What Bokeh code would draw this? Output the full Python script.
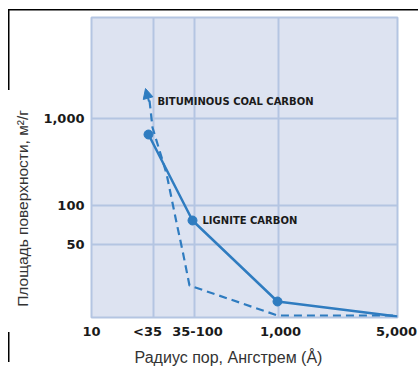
from bokeh.plotting import figure
from bokeh.models import FixedTicker, Label, Arrow, NormalHead, Range1d
from bokeh.embed import file_html
from bokeh.resources import INLINE

# Axis categories (positions along the drawn, non-uniform axis)
x_tick_pos = [0, 62, 103, 187, 306]
x_tick_labels = ["10", "<35", "35-100", "1,000", "5,000"]
y_tick_pos = [73, 112, 199]
y_tick_labels = ["50", "100", "1,000"]

# Series (in the axis units above)
lignite_x = [57, 101, 186, 306]
lignite_y = [183, 97, 16, 1]
bitum_x = [58, 61, 75, 85, 91, 98, 186, 306]
bitum_y = [217, 190, 144, 95, 67, 32, 2, 2]
bitum_arrow_x = [57.5, 54]
bitum_arrow_y = [216, 229]

BLUE = "#2f7cc0"
GRID = "#b4c5e2"

border_css = ("linear-gradient(#000,#000) 8px 9px / 410px 1.5px no-repeat, "
              "linear-gradient(#000,#000) 8px 9px / 1.5px 81px no-repeat, "
              "linear-gradient(#000,#000) 8px 332px / 1.5px 30px no-repeat")

p = figure(width=418, height=369, output_backend="svg", toolbar_location=None,
           x_range=Range1d(0, 306), y_range=Range1d(0, 300),
           min_border_left=91, min_border_right=21, min_border_top=17, min_border_bottom=52,
           styles={"background": border_css})

p.background_fill_color = "#dde3f1"
p.border_fill_color = None
p.outline_line_color = GRID
p.outline_line_width = 2

label_nudge = [0, -6, 3, 2, -1]
label_pos = [t + n for t, n in zip(x_tick_pos, label_nudge)]
p.xaxis.ticker = FixedTicker(ticks=label_pos)
p.xaxis.major_label_overrides = {t: l for t, l in zip(label_pos, x_tick_labels)}
p.yaxis.ticker = FixedTicker(ticks=y_tick_pos)
p.yaxis.major_label_overrides = {t: l for t, l in zip(y_tick_pos, y_tick_labels)}
for ax in (p.xaxis[0], p.yaxis[0]):
    ax.axis_line_color = None
    ax.major_tick_line_color = None
    ax.minor_tick_line_color = None
    ax.major_tick_out = 0
    ax.major_tick_in = 0
    ax.minor_tick_out = 0
    ax.minor_tick_in = 0
    ax.major_label_text_font = "DejaVu Sans"
    ax.major_label_text_font_style = "bold"
    ax.major_label_text_font_size = "13px"
    ax.major_label_text_color = "#1a1a1a"
    ax.axis_label_text_font = "Liberation Sans"
    ax.axis_label_text_font_style = "normal"
    ax.axis_label_text_color = "#333333"
p.xaxis.major_label_standoff = 6
p.yaxis.major_label_standoff = 7

# Axis titles (trailing em spaces shift them off-centre as in the original)
p.xaxis.axis_label = "Радиус пор, Ангстрем (Å)" + "\u2003\u2003"
p.xaxis.axis_label_text_font_size = "16px"
p.xaxis.axis_label_standoff = 7
p.yaxis.axis_label = "Площадь поверхности, м²/г" + "\u2003" * 5 + "\u00a0"
p.yaxis.axis_label_text_font_size = "15.5px"
p.yaxis.axis_label_standoff = 9

p.xgrid.ticker = FixedTicker(ticks=x_tick_pos[1:-1])
p.ygrid.ticker = FixedTicker(ticks=y_tick_pos)
for g in (p.xgrid[0], p.ygrid[0]):
    g.grid_line_color = GRID
    g.grid_line_width = 2

# Bituminous coal carbon (dashed)
p.line(bitum_x, bitum_y, line_color=BLUE, line_width=2.2, line_dash="8 5")
p.add_layout(Arrow(end=NormalHead(size=10, fill_color=BLUE, line_color=BLUE),
                   x_start=bitum_arrow_x[0], y_start=bitum_arrow_y[0],
                   x_end=bitum_arrow_x[1], y_end=bitum_arrow_y[1],
                   line_color=BLUE, line_width=2))

# Lignite carbon (solid)
p.line(lignite_x, lignite_y, line_color=BLUE, line_width=2.5)
p.scatter(lignite_x[:-1], lignite_y[:-1], size=9, fill_color=BLUE, line_color=BLUE)

p.add_layout(Label(x=66, y=216, text="BITUMINOUS COAL CARBON", text_font="DejaVu Sans",
                   text_font_style="bold", text_font_size="10px", text_color="#1a1a1a",
                   text_baseline="middle"))
p.add_layout(Label(x=111, y=97, text="LIGNITE CARBON", text_font="DejaVu Sans",
                   text_font_style="bold", text_font_size="10px", text_color="#1a1a1a",
                   text_baseline="middle"))

open("out.html", "w").write(file_html(p, INLINE))
